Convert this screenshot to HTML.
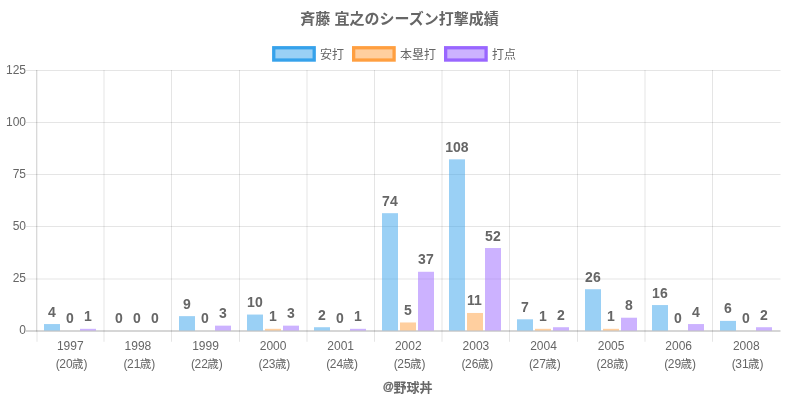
<!DOCTYPE html><html><head><meta charset="utf-8"><title>斉藤 宜之のシーズン打撃成績</title><style>html,body{margin:0;padding:0;background:#fff}body{width:800px;height:400px;overflow:hidden}</style></head><body><div style="will-change:transform;width:800px;height:400px"><svg width="800" height="400" viewBox="0 0 800 400" style="display:block;font-family:'Liberation Sans',sans-serif"><rect width="800" height="400" fill="#fff"/><g><line x1="37" x2="37" y1="70.0" y2="341.8" stroke="rgba(0,0,0,0.1)"/><line x1="36.5" x2="36.5" y1="70.0" y2="331.5" stroke="rgba(0,0,0,0.1)"/><line x1="104.0" x2="104.0" y1="70.0" y2="341.8" stroke="rgba(0,0,0,0.1)"/><line x1="171.5" x2="171.5" y1="70.0" y2="341.8" stroke="rgba(0,0,0,0.1)"/><line x1="239.5" x2="239.5" y1="70.0" y2="341.8" stroke="rgba(0,0,0,0.1)"/><line x1="307.0" x2="307.0" y1="70.0" y2="341.8" stroke="rgba(0,0,0,0.1)"/><line x1="374.5" x2="374.5" y1="70.0" y2="341.8" stroke="rgba(0,0,0,0.1)"/><line x1="442.0" x2="442.0" y1="70.0" y2="341.8" stroke="rgba(0,0,0,0.1)"/><line x1="509.5" x2="509.5" y1="70.0" y2="341.8" stroke="rgba(0,0,0,0.1)"/><line x1="577.5" x2="577.5" y1="70.0" y2="341.8" stroke="rgba(0,0,0,0.1)"/><line x1="645.0" x2="645.0" y1="70.0" y2="341.8" stroke="rgba(0,0,0,0.1)"/><line x1="712.5" x2="712.5" y1="70.0" y2="341.8" stroke="rgba(0,0,0,0.1)"/><line x1="26.0" x2="780.5" y1="70.5" y2="70.5" stroke="rgba(0,0,0,0.1)"/><line x1="26.0" x2="780.5" y1="122.5" y2="122.5" stroke="rgba(0,0,0,0.1)"/><line x1="26.0" x2="780.5" y1="174.5" y2="174.5" stroke="rgba(0,0,0,0.1)"/><line x1="26.0" x2="780.5" y1="226.5" y2="226.5" stroke="rgba(0,0,0,0.1)"/><line x1="26.0" x2="780.5" y1="279.0" y2="279.0" stroke="rgba(0,0,0,0.1)"/><line x1="26.0" x2="780.5" y1="331.0" y2="331.0" stroke="rgba(0,0,0,0.32)"/></g><g fill="#666"><text x="5.98" y="73.70" font-size="12">125</text></g><g fill="#666"><text x="5.98" y="125.80" font-size="12">100</text></g><g fill="#666"><text x="12.65" y="177.90" font-size="12">75</text></g><g fill="#666"><text x="12.65" y="230.00" font-size="12">50</text></g><g fill="#666"><text x="12.65" y="282.10" font-size="12">25</text></g><g fill="#666"><text x="19.33" y="334.20" font-size="12">0</text></g><rect x="44" y="324.06" width="16" height="6.44" fill="rgba(54,162,235,0.5)"/><g fill="#666"><text x="48.01" y="317.00" font-size="14" font-weight="bold">4</text></g><g fill="#666"><text x="66.01" y="323.00" font-size="14" font-weight="bold">0</text></g><rect x="80" y="328.82" width="16" height="1.68" fill="rgba(153,102,255,0.5)"/><g fill="#666"><text x="84.01" y="321.00" font-size="14" font-weight="bold">1</text></g><g fill="#666"><text x="115.01" y="323.00" font-size="14" font-weight="bold">0</text></g><g fill="#666"><text x="133.01" y="323.00" font-size="14" font-weight="bold">0</text></g><g fill="#666"><text x="151.01" y="323.00" font-size="14" font-weight="bold">0</text></g><rect x="179" y="316.14" width="16" height="14.36" fill="rgba(54,162,235,0.5)"/><g fill="#666"><text x="183.01" y="309.00" font-size="14" font-weight="bold">9</text></g><g fill="#666"><text x="201.01" y="323.00" font-size="14" font-weight="bold">0</text></g><rect x="215" y="325.65" width="16" height="4.85" fill="rgba(153,102,255,0.5)"/><g fill="#666"><text x="219.01" y="318.00" font-size="14" font-weight="bold">3</text></g><rect x="247" y="314.56" width="16" height="15.94" fill="rgba(54,162,235,0.5)"/><g fill="#666"><text x="247.11" y="307.00" font-size="14" font-weight="bold">10</text></g><rect x="265" y="328.82" width="16" height="1.68" fill="rgba(255,159,64,0.5)"/><g fill="#666"><text x="269.01" y="321.00" font-size="14" font-weight="bold">1</text></g><rect x="283" y="325.65" width="16" height="4.85" fill="rgba(153,102,255,0.5)"/><g fill="#666"><text x="287.01" y="318.00" font-size="14" font-weight="bold">3</text></g><rect x="314" y="327.23" width="16" height="3.27" fill="rgba(54,162,235,0.5)"/><g fill="#666"><text x="318.01" y="320.00" font-size="14" font-weight="bold">2</text></g><g fill="#666"><text x="336.01" y="323.00" font-size="14" font-weight="bold">0</text></g><rect x="350" y="328.82" width="16" height="1.68" fill="rgba(153,102,255,0.5)"/><g fill="#666"><text x="354.01" y="321.00" font-size="14" font-weight="bold">1</text></g><rect x="382" y="213.18" width="16" height="117.32" fill="rgba(54,162,235,0.5)"/><g fill="#666"><text x="382.11" y="206.00" font-size="14" font-weight="bold">74</text></g><rect x="400" y="322.48" width="16" height="8.02" fill="rgba(255,159,64,0.5)"/><g fill="#666"><text x="404.01" y="315.00" font-size="14" font-weight="bold">5</text></g><rect x="418" y="271.79" width="16" height="58.71" fill="rgba(153,102,255,0.5)"/><g fill="#666"><text x="418.11" y="264.00" font-size="14" font-weight="bold">37</text></g><rect x="449" y="159.33" width="16" height="171.17" fill="rgba(54,162,235,0.5)"/><g fill="#666"><text x="445.22" y="152.00" font-size="14" font-weight="bold">108</text></g><rect x="467" y="312.98" width="16" height="17.52" fill="rgba(255,159,64,0.5)"/><g fill="#666"><text x="467.11" y="305.00" font-size="14" font-weight="bold">11</text></g><rect x="485" y="248.03" width="16" height="82.47" fill="rgba(153,102,255,0.5)"/><g fill="#666"><text x="485.11" y="241.00" font-size="14" font-weight="bold">52</text></g><rect x="517" y="319.31" width="16" height="11.19" fill="rgba(54,162,235,0.5)"/><g fill="#666"><text x="521.01" y="312.00" font-size="14" font-weight="bold">7</text></g><rect x="535" y="328.82" width="16" height="1.68" fill="rgba(255,159,64,0.5)"/><g fill="#666"><text x="539.01" y="321.00" font-size="14" font-weight="bold">1</text></g><rect x="553" y="327.23" width="16" height="3.27" fill="rgba(153,102,255,0.5)"/><g fill="#666"><text x="557.01" y="320.00" font-size="14" font-weight="bold">2</text></g><rect x="585" y="289.22" width="16" height="41.28" fill="rgba(54,162,235,0.5)"/><g fill="#666"><text x="585.11" y="282.00" font-size="14" font-weight="bold">26</text></g><rect x="603" y="328.82" width="16" height="1.68" fill="rgba(255,159,64,0.5)"/><g fill="#666"><text x="607.01" y="321.00" font-size="14" font-weight="bold">1</text></g><rect x="621" y="317.73" width="16" height="12.77" fill="rgba(153,102,255,0.5)"/><g fill="#666"><text x="625.01" y="310.00" font-size="14" font-weight="bold">8</text></g><rect x="652" y="305.06" width="16" height="25.44" fill="rgba(54,162,235,0.5)"/><g fill="#666"><text x="652.11" y="298.00" font-size="14" font-weight="bold">16</text></g><g fill="#666"><text x="674.01" y="323.00" font-size="14" font-weight="bold">0</text></g><rect x="688" y="324.06" width="16" height="6.44" fill="rgba(153,102,255,0.5)"/><g fill="#666"><text x="692.01" y="317.00" font-size="14" font-weight="bold">4</text></g><rect x="720" y="320.90" width="16" height="9.60" fill="rgba(54,162,235,0.5)"/><g fill="#666"><text x="724.01" y="313.00" font-size="14" font-weight="bold">6</text></g><g fill="#666"><text x="742.01" y="323.00" font-size="14" font-weight="bold">0</text></g><rect x="756" y="327.23" width="16" height="3.27" fill="rgba(153,102,255,0.5)"/><g fill="#666"><text x="760.01" y="320.00" font-size="14" font-weight="bold">2</text></g><g fill="#666"><text x="56.95" y="349.80" font-size="12">1997</text></g><g fill="#666"><text x="55.82" y="368.00" font-size="12">(</text></g><g fill="#666"><text x="59.37" y="368.00" font-size="12">20</text></g><g fill="#666"><text x="72.12" y="367.80" font-size="11.5" style="font-family:'Liberation Sans','Noto Sans CJK JP',sans-serif">歳</text></g><g fill="#666"><text x="83.57" y="368.00" font-size="12">)</text></g><g fill="#666"><text x="124.55" y="349.80" font-size="12">1998</text></g><g fill="#666"><text x="123.42" y="368.00" font-size="12">(</text></g><g fill="#666"><text x="126.97" y="368.00" font-size="12">21</text></g><g fill="#666"><text x="139.72" y="367.80" font-size="11.5" style="font-family:'Liberation Sans','Noto Sans CJK JP',sans-serif">歳</text></g><g fill="#666"><text x="151.17" y="368.00" font-size="12">)</text></g><g fill="#666"><text x="192.15" y="349.80" font-size="12">1999</text></g><g fill="#666"><text x="191.02" y="368.00" font-size="12">(</text></g><g fill="#666"><text x="194.57" y="368.00" font-size="12">22</text></g><g fill="#666"><text x="207.32" y="367.80" font-size="11.5" style="font-family:'Liberation Sans','Noto Sans CJK JP',sans-serif">歳</text></g><g fill="#666"><text x="218.77" y="368.00" font-size="12">)</text></g><g fill="#666"><text x="259.75" y="349.80" font-size="12">2000</text></g><g fill="#666"><text x="258.62" y="368.00" font-size="12">(</text></g><g fill="#666"><text x="262.17" y="368.00" font-size="12">23</text></g><g fill="#666"><text x="274.92" y="367.80" font-size="11.5" style="font-family:'Liberation Sans','Noto Sans CJK JP',sans-serif">歳</text></g><g fill="#666"><text x="286.37" y="368.00" font-size="12">)</text></g><g fill="#666"><text x="327.35" y="349.80" font-size="12">2001</text></g><g fill="#666"><text x="326.22" y="368.00" font-size="12">(</text></g><g fill="#666"><text x="329.77" y="368.00" font-size="12">24</text></g><g fill="#666"><text x="342.52" y="367.80" font-size="11.5" style="font-family:'Liberation Sans','Noto Sans CJK JP',sans-serif">歳</text></g><g fill="#666"><text x="353.97" y="368.00" font-size="12">)</text></g><g fill="#666"><text x="394.95" y="349.80" font-size="12">2002</text></g><g fill="#666"><text x="393.82" y="368.00" font-size="12">(</text></g><g fill="#666"><text x="397.37" y="368.00" font-size="12">25</text></g><g fill="#666"><text x="410.12" y="367.80" font-size="11.5" style="font-family:'Liberation Sans','Noto Sans CJK JP',sans-serif">歳</text></g><g fill="#666"><text x="421.57" y="368.00" font-size="12">)</text></g><g fill="#666"><text x="462.55" y="349.80" font-size="12">2003</text></g><g fill="#666"><text x="461.42" y="368.00" font-size="12">(</text></g><g fill="#666"><text x="464.97" y="368.00" font-size="12">26</text></g><g fill="#666"><text x="477.72" y="367.80" font-size="11.5" style="font-family:'Liberation Sans','Noto Sans CJK JP',sans-serif">歳</text></g><g fill="#666"><text x="489.17" y="368.00" font-size="12">)</text></g><g fill="#666"><text x="530.15" y="349.80" font-size="12">2004</text></g><g fill="#666"><text x="529.02" y="368.00" font-size="12">(</text></g><g fill="#666"><text x="532.57" y="368.00" font-size="12">27</text></g><g fill="#666"><text x="545.32" y="367.80" font-size="11.5" style="font-family:'Liberation Sans','Noto Sans CJK JP',sans-serif">歳</text></g><g fill="#666"><text x="556.77" y="368.00" font-size="12">)</text></g><g fill="#666"><text x="597.75" y="349.80" font-size="12">2005</text></g><g fill="#666"><text x="596.62" y="368.00" font-size="12">(</text></g><g fill="#666"><text x="600.17" y="368.00" font-size="12">28</text></g><g fill="#666"><text x="612.92" y="367.80" font-size="11.5" style="font-family:'Liberation Sans','Noto Sans CJK JP',sans-serif">歳</text></g><g fill="#666"><text x="624.37" y="368.00" font-size="12">)</text></g><g fill="#666"><text x="665.35" y="349.80" font-size="12">2006</text></g><g fill="#666"><text x="664.22" y="368.00" font-size="12">(</text></g><g fill="#666"><text x="667.77" y="368.00" font-size="12">29</text></g><g fill="#666"><text x="680.52" y="367.80" font-size="11.5" style="font-family:'Liberation Sans','Noto Sans CJK JP',sans-serif">歳</text></g><g fill="#666"><text x="691.97" y="368.00" font-size="12">)</text></g><g fill="#666"><text x="732.95" y="349.80" font-size="12">2008</text></g><g fill="#666"><text x="731.82" y="368.00" font-size="12">(</text></g><g fill="#666"><text x="735.37" y="368.00" font-size="12">31</text></g><g fill="#666"><text x="748.12" y="367.80" font-size="11.5" style="font-family:'Liberation Sans','Noto Sans CJK JP',sans-serif">歳</text></g><g fill="#666"><text x="759.57" y="368.00" font-size="12">)</text></g><g fill="#666"><text x="399.55" y="24.00" font-size="15" font-weight="bold" text-anchor="middle" style="font-family:'Liberation Sans','Noto Sans CJK JP',sans-serif">斉藤 宜之のシーズン打撃成績</text></g><rect x="273.75" y="47.75" width="40.45" height="12.3" fill="rgba(54,162,235,0.5)" stroke="rgb(54,162,235)" stroke-width="3.3"/><g fill="#666"><text x="320.00" y="58.60" font-size="12" style="font-family:'Liberation Sans','Noto Sans CJK JP',sans-serif">安打</text></g><rect x="353.65" y="47.75" width="40.45" height="12.3" fill="rgba(255,159,64,0.5)" stroke="rgb(255,159,64)" stroke-width="3.3"/><g fill="#666"><text x="400.00" y="58.60" font-size="12" style="font-family:'Liberation Sans','Noto Sans CJK JP',sans-serif">本塁打</text></g><rect x="445.65" y="47.75" width="40.45" height="12.3" fill="rgba(153,102,255,0.5)" stroke="rgb(153,102,255)" stroke-width="3.3"/><g fill="#666"><text x="492.00" y="58.60" font-size="12" style="font-family:'Liberation Sans','Noto Sans CJK JP',sans-serif">打点</text></g><text x="383.0" y="390.2" font-size="11" font-weight="bold" fill="#666" stroke="#666" stroke-width="0.35">@</text><g fill="#666"><text x="393.60" y="391.80" font-size="13" font-weight="bold" style="font-family:'Liberation Sans','Noto Sans CJK JP',sans-serif">野球丼</text></g></svg></div></body></html>
